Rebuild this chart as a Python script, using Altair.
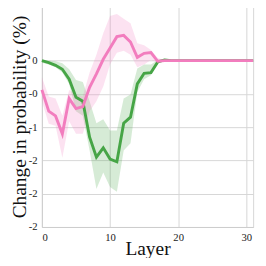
import altair as alt
import pandas as pd

layers = list(range(32))

green_mean = [0.0, -0.03, -0.07, -0.13, -0.28, -0.55, -0.61, -1.15, -1.45, -1.31, -1.48, -1.52,
              -0.94, -0.85, -0.35, -0.19, -0.18, -0.02, 0.01] + [0.0] * 13
green_lo = [-0.03, -0.06, -0.10, -0.18, -0.35, -0.76, -0.83, -1.35, -1.93, -1.68, -1.90, -1.97,
            -1.35, -1.24, -0.47, -0.28, -0.22, -0.03, -0.01] + [-0.01] * 13
green_hi = [0.01, 0.0, -0.01, -0.04, -0.13, -0.29, -0.32, -0.61, -0.94, -0.88, -1.05, -1.05,
            -0.57, -0.51, -0.12, -0.06, -0.06, 0.01, 0.02] + [0.01] * 13

pink_mean = [-0.44, -0.76, -0.83, -1.10, -0.57, -0.72, -0.69, -0.40, -0.20, 0.02, 0.19, 0.36,
             0.38, 0.28, 0.05, 0.11, 0.12, -0.01, 0.0] + [0.0] * 13
pink_lo = [-0.61, -0.95, -0.98, -1.46, -0.91, -1.10, -1.10, -0.76, -0.61, -0.39, -0.06, 0.12,
           0.15, 0.09, -0.10, -0.06, 0.01, -0.03, -0.01] + [-0.01] * 13
pink_hi = [-0.25, -0.54, -0.57, -0.83, -0.44, -0.51, -0.54, -0.18, 0.09, 0.41, 0.67, 0.70,
           0.63, 0.56, 0.26, 0.23, 0.16, 0.04, 0.01] + [0.01] * 13

series_names = ["green", "pink"]
series_colors = ["#46a546", "#f27dbe"]

y_tick_values = [0, -0.5, -1, -1.5, -2, -2.5]
y_tick_labels = ["0", "-0", "-1", "-2", "-2", "-2"]
x_tick_values = [0, 10, 20, 30, 31]
x_tick_labels = ["0", "10", "20", "30", ""]

rows = []
for name, m, lo, hi in [("green", green_mean, green_lo, green_hi),
                        ("pink", pink_mean, pink_lo, pink_hi)]:
    for l, a, b, c in zip(layers, m, lo, hi):
        rows.append({"layer": l, "series": name, "mean": a, "lo": b, "hi": c})
df = pd.DataFrame(rows)


def label_expr(values, labels):
    parts = [f"datum.value == {v} ? '{t}'" for v, t in zip(values, labels)]
    return " : ".join(parts) + " : ''"


font = "Liberation Serif"
color = alt.Color("series:N", scale=alt.Scale(domain=series_names, range=series_colors), legend=None)

x_enc = alt.X("layer:Q", scale=alt.Scale(domain=[0, 31], nice=False, zero=False),
              axis=alt.Axis(values=x_tick_values, labelExpr=label_expr(x_tick_values, x_tick_labels),
                            title="Layer", titleBaseline="alphabetic", titleY=28, titleX=109))
y_scale = alt.Scale(domain=[-2.5, 0.82], nice=False, zero=False)
y_axis = alt.Axis(values=y_tick_values, labelExpr=label_expr(y_tick_values, y_tick_labels),
                  title="Change in probability (%)", titleBaseline="alphabetic", titleX=-17)

layers_list = []
for name in series_names:
    layers_list.append(
        alt.Chart(df).transform_filter(alt.datum.series == name).mark_area(opacity=0.22).encode(
            x=x_enc, y=alt.Y("lo:Q", scale=y_scale, axis=y_axis), y2="hi:Q", color=color)
    )
for name in series_names:
    layers_list.append(
        alt.Chart(df).transform_filter(alt.datum.series == name).mark_line(strokeWidth=3).encode(
            x=x_enc, y=alt.Y("mean:Q", scale=y_scale, axis=y_axis), color=color)
    )

chart = alt.layer(*layers_list).properties(
    width=218, height=228,
    autosize=alt.AutoSizeParams(type="none"),
    padding={"left": 35, "top": -6, "right": 5, "bottom": 28},
).configure_view(stroke=None).configure_axis(
    labelFont=font, labelFontSize=11, labelColor="#222222",
    titleFont=font, titleFontSize=20, titleFontWeight="normal", titleColor="#111111",
    domainColor="#cccccc", gridColor="#d6d6d6", gridWidth=1, tickSize=0, labelPadding=5,
)

chart.save("out.html", embed_options={"renderer": "svg", "actions": False})
